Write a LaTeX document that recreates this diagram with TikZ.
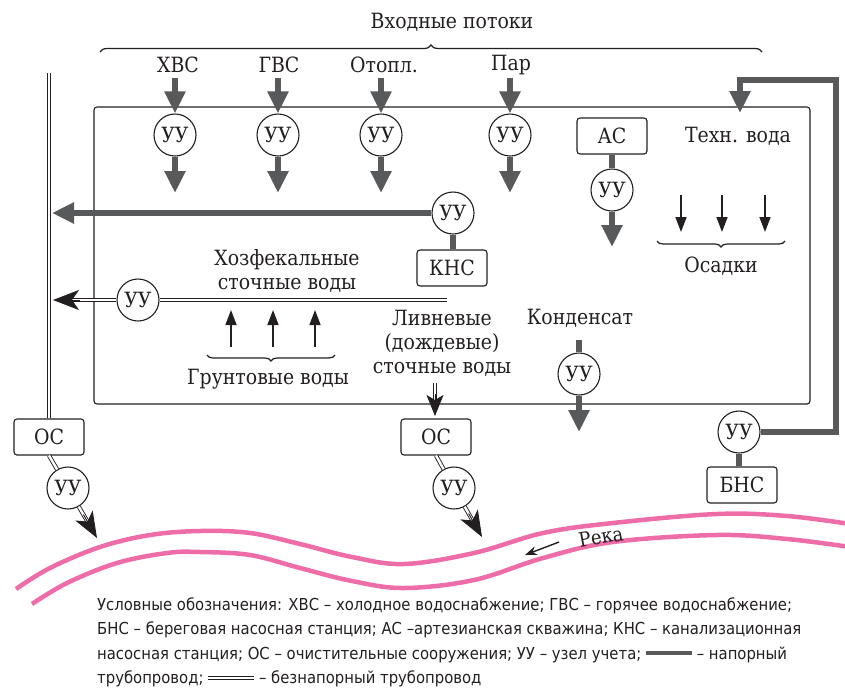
\documentclass[tikz,border=0pt]{standalone}
\usepackage{fontspec}
\setmainfont{DejaVu Serif Condensed}
\newfontfamily\legendfont{DejaVu Sans Condensed}
\usetikzlibrary{arrows.meta,calc,decorations.pathreplacing}
\definecolor{pgray}{HTML}{58595B}
\definecolor{ink}{HTML}{231F20}
\definecolor{rivercol}{HTML}{EE6DA8}
\newcommand{\presssym}{{\color{pgray}\rule[4pt]{46pt}{4.5pt}}}
\newcommand{\gravsym}{\makebox[46pt][l]{\rlap{\rule[3.5pt]{46pt}{0.8pt}}\rule[7pt]{46pt}{0.8pt}}}
\begin{document}
\begin{tikzpicture}[x=1pt,y=-1pt, font=\fontsize{21}{24}\selectfont, text=ink,
  uu/.style={circle,draw=ink,line width=1.1pt,minimum size=42pt,inner sep=0pt,fill=white},
  box/.style={draw=ink,rounded corners=3pt,minimum width=70pt,minimum height=36pt,line width=1.1pt,inner sep=0pt,fill=white},
  lbl/.style={inner sep=0pt},
  press/.style={line width=6pt,draw=pgray},
  parrow/.style={press,-{Triangle[length=22pt,width=20pt]}},
  grav/.style={draw=ink,line width=0.9pt,double=white,double distance=2.4pt},
  bhead/.style={draw=ink,fill=ink,line width=0.9pt,-{Stealth[length=26pt,width=20pt,inset=7pt]}},
  bheads/.style={draw=ink,fill=ink,line width=0.9pt,-{Stealth[length=21pt,width=17pt,inset=5pt]}},
  tarrow/.style={draw=ink,line width=1.6pt,-{Triangle[length=15pt,width=11pt]}},
  brc/.style={draw=ink,line width=1.2pt,decorate,decoration={brace,amplitude=7pt}},
  riv/.style={draw=rivercol,line width=4.5pt},
]
\useasboundingbox (0,0) rectangle (845,691);

% main enclosure
\draw[draw=ink,line width=1.1pt,rounded corners=3pt] (94,107) rectangle (810,404);

% title and brace
\node[lbl] (title) at (452,22) {Входные потоки};
\draw[brc] (100,52) -- (762,52);

% inputs
\node[lbl] (lxvs) at (178,65) {ХВС};
\node[lbl] (lgvs) at (279,65) {ГВС};
\node[lbl] (lotop) at (384,65) {Отопл.};
\node[lbl] (lpar) at (511,65) {Пар};

\node[uu] (u1) at (175,135) {УУ};
\node[uu] (u2) at (278,135) {УУ};
\node[uu] (u3) at (381,135) {УУ};
\node[uu] (u4) at (510,135) {УУ};

\coordinate (s1) at (175,78); \coordinate (e1) at (175,193);
\coordinate (s2) at (278,78); \coordinate (e2) at (278,193);
\coordinate (s3) at (381,78); \coordinate (e3) at (381,193);
\coordinate (s4) at (510,78); \coordinate (e4) at (510,193);
\foreach \i in {1,2,3,4}{
  \draw[parrow] (s\i) -- (u\i.north);
  \draw[parrow] (u\i.south) -- (e\i);
}

% artesian well
\node[box] (as) at (612,136) {АС};
\node[uu] (uas) at (612,190) {УУ};
\coordinate (eas) at (612,247);
\draw[press] (as.south) -- (uas.north);
\draw[parrow] (uas.south) -- (eas);

% technical water
\node[lbl] (tech) at (738,136) {Техн. вода};

% precipitation
\coordinate (o1s) at (681,195); \coordinate (o1e) at (681,232);
\coordinate (o2s) at (722,195); \coordinate (o2e) at (722,232);
\coordinate (o3s) at (765,195); \coordinate (o3e) at (765,232);
\foreach \i in {1,2,3}{ \draw[tarrow] (o\i s) -- (o\i e); }
\draw[brc,decoration={brace,amplitude=6pt}] (785,241) -- (657,241);
\node[lbl] (osadki) at (721,266) {Осадки};

% KNS
\node[uu] (ukns) at (453,213) {УУ};
\node[box] (kns) at (452,268) {КНС};
\coordinate (ekns) at (52,213);
\draw[press] (ukns.south) -- (kns.north -| ukns.south);
\draw[parrow] (ukns.west) -- (ekns);

% left collector and OS
\coordinate (dtop) at (49,73);
\node[box] (ocl) at (49,437) {ОС};
\draw[grav] (dtop) -- (ocl.north);

% household sewage
\node[lbl,align=center] (hoz) at (287,271) {Хозфекальные\\сточные воды};
\coordinate (hozend) at (447,300);
\node[uu] (uhoz) at (138,300) {УУ};
\coordinate (hoztip) at (53,300);
\draw[grav] (hozend) -- (uhoz.east);
\draw[grav] (uhoz.west) -- ($(hoztip)!15pt!(uhoz.west)$);
\draw[bhead] ($(hoztip)!27pt!(uhoz.west)$) -- (hoztip);

% groundwater
\coordinate (g1s) at (231,347); \coordinate (g1e) at (231,310);
\coordinate (g2s) at (273,347); \coordinate (g2e) at (273,310);
\coordinate (g3s) at (315,347); \coordinate (g3e) at (315,310);
\foreach \i in {1,2,3}{ \draw[tarrow] (g\i s) -- (g\i e); }
\draw[brc,decoration={brace,amplitude=6pt}] (335,355) -- (207,355);
\node[lbl] (grunt) at (268,379) {Грунтовые воды};

% storm water
\node[lbl,align=center] (liv) at (442,343) {Ливневые\\(дождевые)\\сточные воды};
\node[box] (ocm) at (436,437) {ОС};
\coordinate (livs) at (435,383);
\coordinate (livt) at (435,416);
\draw[grav] (livs) -- ($(livt)!12pt!(livs)$);
\draw[bheads] ($(livt)!22pt!(livs)$) -- (livt);

% outlets to the river
\node[uu] (uol) at (68,488) {УУ};
\coordinate (tipl) at (97,538);
\draw[grav] (ocl.south) -- (uol);
\draw[grav] (uol) -- ($(tipl)!15pt!(uol)$);
\draw[bhead] ($(tipl)!27pt!(uol)$) -- (tipl);

\node[uu] (uom) at (454,488) {УУ};
\coordinate (tipm) at (482,537);
\draw[grav] (ocm.south) -- (uom);
\draw[grav] (uom) -- ($(tipm)!15pt!(uom)$);
\draw[bhead] ($(tipm)!27pt!(uom)$) -- (tipm);

% condensate
\node[lbl] (kond) at (580,318) {Конденсат};
\coordinate (ks) at (579,340);
\node[uu] (ukond) at (579,374) {УУ};
\coordinate (ke) at (579,432);
\draw[press] (ks) -- (ukond.north);
\draw[parrow] (ukond.south) -- (ke);

% shore pumping station and technical water return
\node[uu] (ubns) at (739,432) {УУ};
\node[box] (bns) at (742,485) {БНС};
\draw[press] (ubns.south) -- (bns.north -| ubns.south);
\coordinate (r1) at (836,432);
\coordinate (r2) at (836,80);
\coordinate (r3) at (740,80);
\coordinate (r4) at (740,113);
\draw[parrow,line join=miter] (ubns.east) -- (r1) -- (r2) -- (r3) -- (r4);

% river
\draw[riv] plot[smooth,tension=0.6] coordinates
  {(16,589) (50,568) (100,547) (150,535) (200,531) (250,533) (300,544) (352,557) (404,564) (474,553) (543,533) (613,523) (717,514) (787,516) (850,524)};
\draw[riv] plot[smooth,tension=0.6] coordinates
  {(32,604) (67,583) (117,563) (167,553) (200,552) (250,555) (300,568) (352,581) (404,588) (474,580) (543,558) (613,542) (717,535) (787,539) (850,547)};
\node[lbl,rotate=10,font=\fontsize{20}{24}\selectfont] (reka) at (601,537) {Река};
\coordinate (ra1) at (559,542);
\coordinate (ra2) at (525,555);
\draw[draw=ink,line width=1.4pt,-{Stealth[length=12pt,width=9pt]}] (ra1) -- (ra2);

% legend
\node[anchor=north west,align=left,inner sep=0pt,font=\legendfont\fontsize{16.5}{24.5}\selectfont] (legend) at (97,597)
{Условные обозначения: ХВС – холодное водоснабжение; ГВС – горячее водоснабжение;\\
БНС – береговая насосная станция; АС –артезианская скважина; КНС – канализационная\\
насосная станция; ОС – очистительные сооружения; УУ – узел учета; \presssym{} – напорный\\
трубопровод; \gravsym{} – безнапорный трубопровод};
\end{tikzpicture}
\end{document}
